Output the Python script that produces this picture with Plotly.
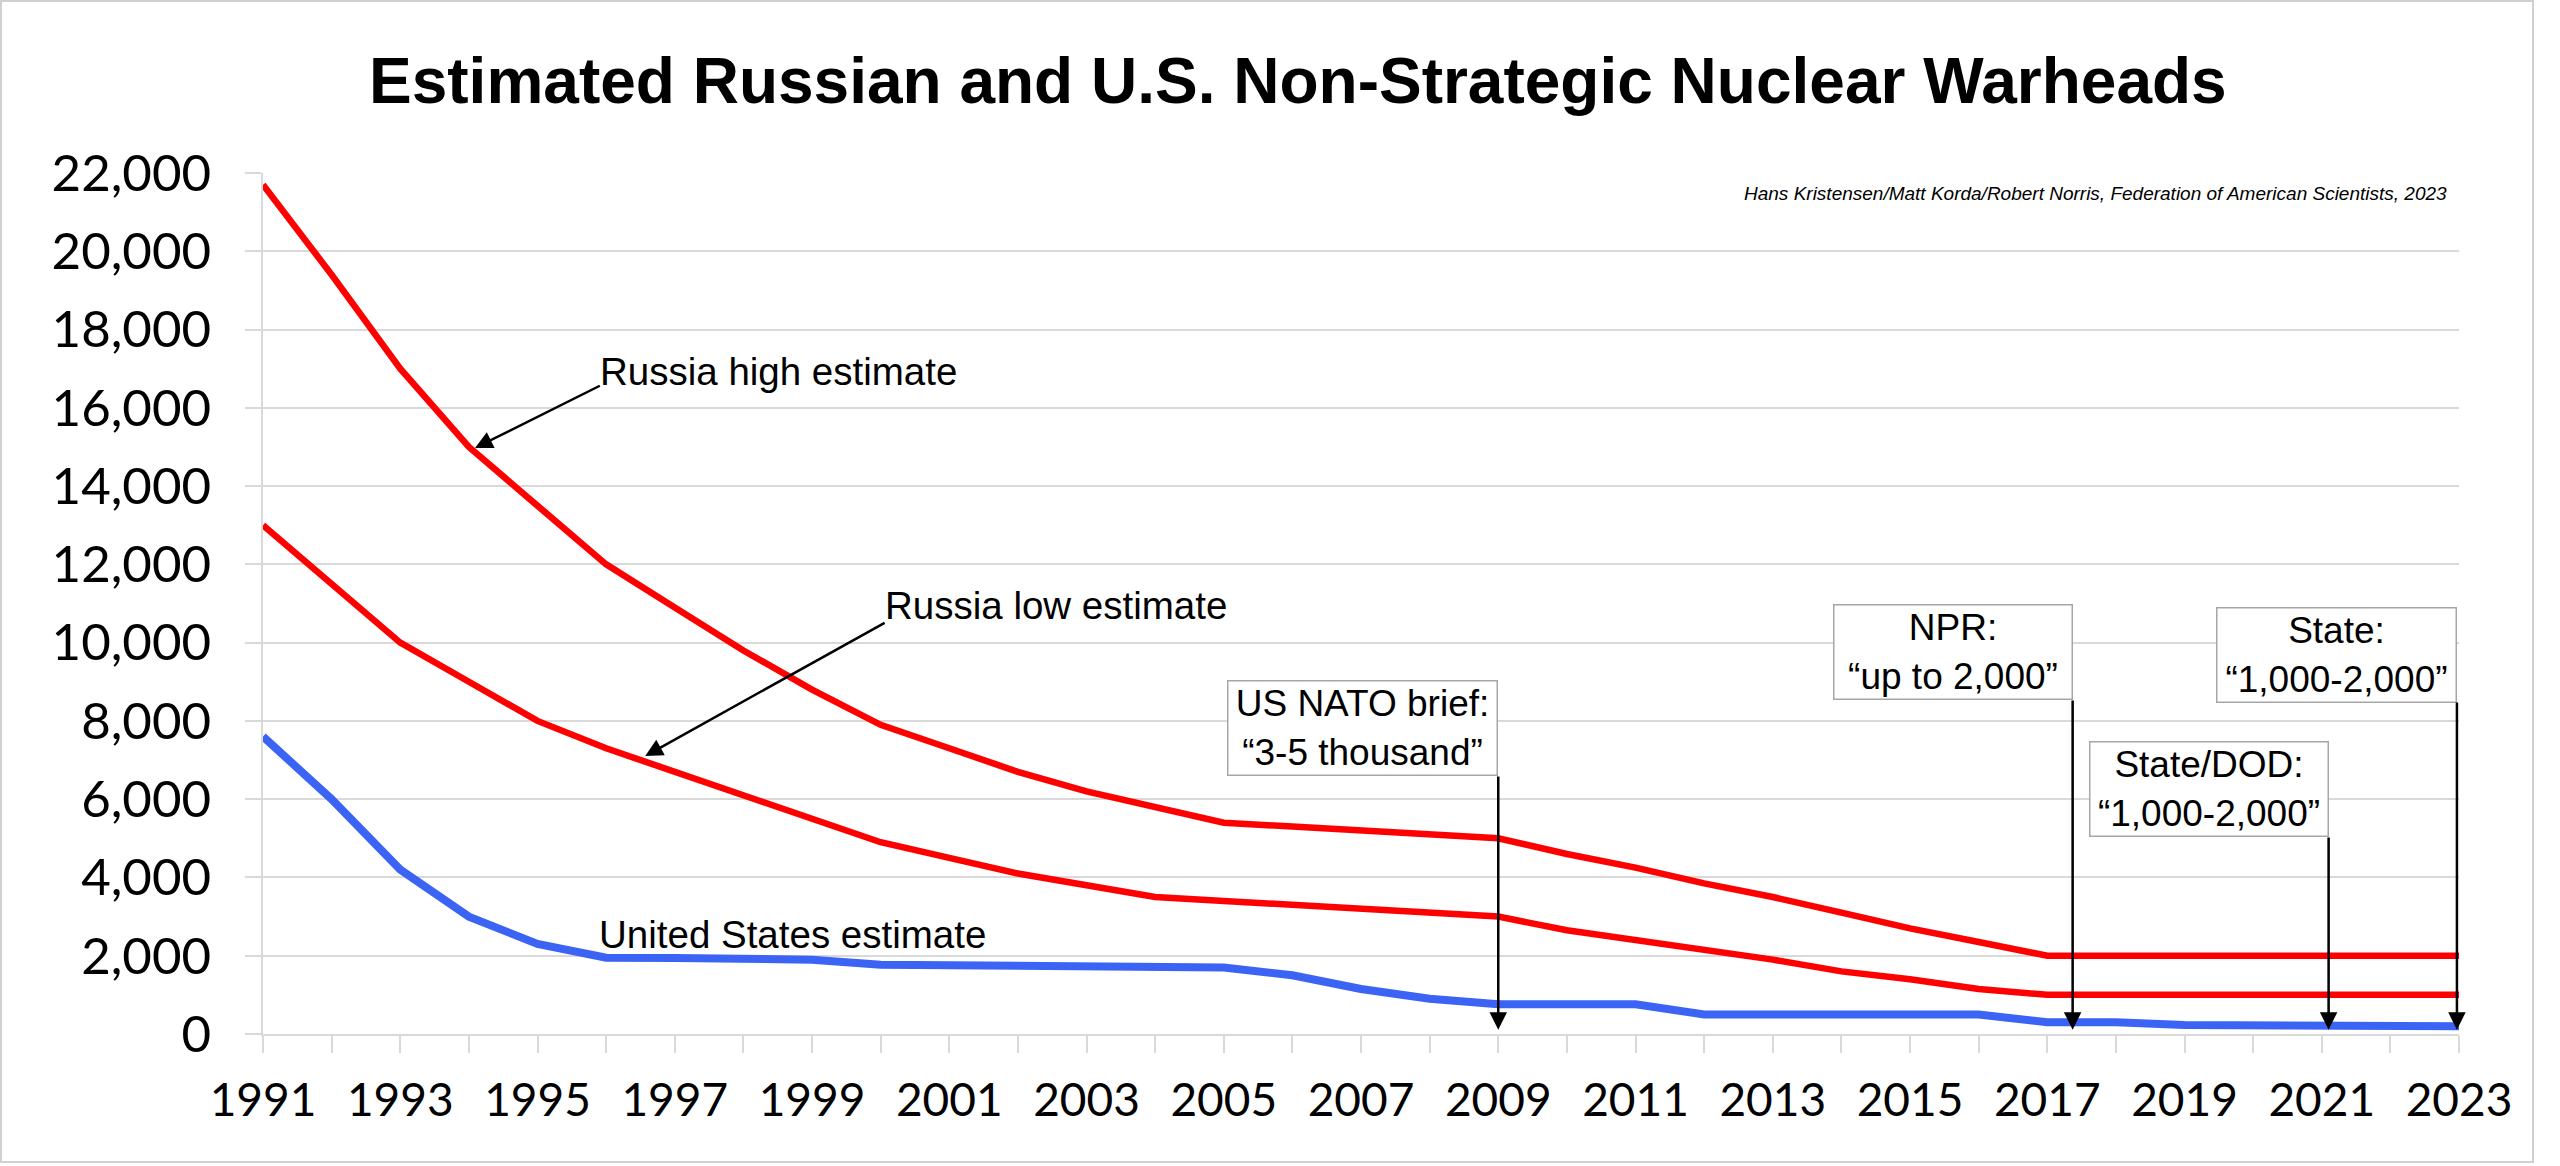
import plotly.graph_objects as go

# ---------------- data ----------------
YEARS = list(range(1991, 2024))
RUSSIA_HIGH = [21700, 19400, 17000, 15000, 13500, 12000, 10900, 9800, 8800, 7900,
               7300, 6700, 6200, 5800, 5400, 5300, 5200, 5100, 5000, 4600,
               4250, 3850, 3500, 3100, 2700, 2350, 2000, 2000, 2000, 2000,
               2000, 2000, 2000]
RUSSIA_LOW = [13000, 11500, 10000, 9000, 8000, 7300, 6700, 6100, 5500, 4900,
              4500, 4100, 3800, 3500, 3400, 3300, 3200, 3100, 3000, 2650,
              2400, 2150, 1900, 1600, 1400, 1150, 1000, 1000, 1000, 1000,
              1000, 1000, 1000]
US_EST = [7600, 6000, 4200, 3000, 2300, 1950, 1940, 1925, 1900, 1770,
          1750, 1740, 1730, 1720, 1700, 1500, 1150, 900, 760, 760,
          760, 500, 500, 500, 500, 500, 300, 300, 230, 230,
          230, 200, 200]
Y_TICKS = list(range(0, 22001, 2000))
X_TICKTEXT = [str(y) if (y - 1991) % 2 == 0 else "" for y in YEARS]

TITLE = "Estimated Russian and U.S. Non-Strategic Nuclear Warheads"
CREDIT = "Hans Kristensen/Matt Korda/Robert Norris, Federation of American Scientists, 2023"

# statements: (text, arrow year, box top value, box bottom value, box width px)
STATEMENTS = [
    ("US NATO brief:<br>\u201c3-5 thousand\u201d", 2009.0, 9045, 6618, 270),
    ("NPR:<br>\u201cup to 2,000\u201d", 2017.37, 10987, 8560, 239),
    ("State/DOD:<br>\u201c1,000-2,000\u201d", 2021.1, 7487, 5059, 239),
    ("State:<br>\u201c1,000-2,000\u201d", 2022.97, 10911, 8509, 240),
]

RED = "#ff0000"
BLUE = "#3b64f5"
GRID = "#d9d9d9"

W, H = 2560, 1166
ML, MR, MT, MB = 263, 101, 173, 132
PW, PH = W - ML - MR, H - MT - MB


def px_paper_x(px):
    return (px - ML) / PW


def px_paper_y(py):
    return (H - MB - py) / PH


fig = go.Figure()
fig.add_trace(go.Scatter(x=YEARS, y=RUSSIA_HIGH, mode="lines", name="Russia high estimate",
                         line=dict(color=RED, width=6.5)))
fig.add_trace(go.Scatter(x=YEARS, y=RUSSIA_LOW, mode="lines", name="Russia low estimate",
                         line=dict(color=RED, width=6.5)))
fig.add_trace(go.Scatter(x=YEARS, y=US_EST, mode="lines", name="United States estimate",
                         line=dict(color=BLUE, width=8)))

ann = []
label_font = dict(family="Liberation Sans, Arial, sans-serif", size=38.5, color="black")
box_font = dict(family="Liberation Sans, Arial, sans-serif", size=37, color="black")

# title
ann.append(dict(text="<b>" + TITLE + "</b>", xref="paper", yref="paper",
                x=px_paper_x(1298), y=px_paper_y(81), xanchor="center", yanchor="middle",
                showarrow=False,
                font=dict(family="Liberation Sans, Arial, sans-serif", size=64, color="black")))
# credit
ann.append(dict(text="<i>" + CREDIT + "</i>", xref="x", yref="y",
                x=2022.854, y=21489, xanchor="right", yanchor="middle", showarrow=False,
                font=dict(family="Liberation Sans, Arial, sans-serif", size=19, color="black")))

# series labels
ann.append(dict(text="Russia high estimate", xref="x", yref="y", x=1995.88, y=16940,
                xanchor="left", yanchor="middle", showarrow=False, font=label_font))
ann.append(dict(text="Russia low estimate", xref="x", yref="y", x=2000.04, y=10960,
                xanchor="left", yanchor="middle", showarrow=False, font=label_font))
ann.append(dict(text="United States estimate", xref="x", yref="y", x=1995.86, y=2530,
                xanchor="left", yanchor="middle", showarrow=False, font=label_font))

# label arrows
arrow_common = dict(text="", showarrow=True, arrowhead=2, arrowsize=1.4, arrowwidth=2.5,
                    arrowcolor="black", xref="x", yref="y", axref="x", ayref="y",
                    startstandoff=0, standoff=0)
ann.append(dict(x=1994.09, y=14973, ax=1995.93, ay=16583, **arrow_common))
ann.append(dict(x=1996.57, y=7103, ax=2000.08, ay=10527, **arrow_common))

# statement boxes + arrows
for text, yr, top, bottom, bw in STATEMENTS:
    ann.append(dict(text=text, xref="x", yref="y", x=yr, y=top, xanchor="right", yanchor="top",
                    showarrow=False, width=bw - 2, height=93, align="center", valign="middle",
                    bgcolor="white", bordercolor="#a6a6a6", borderwidth=1.5, borderpad=0,
                    font=box_font))
    ann.append(dict(x=yr, y=110, ax=yr, ay=bottom, **arrow_common))

fig.update_layout(
    width=W, height=H,
    margin=dict(l=ML, r=MR, t=MT, b=MB, pad=0),
    paper_bgcolor="white", plot_bgcolor="white",
    showlegend=False,
    annotations=ann,
    shapes=[dict(type="rect", xref="paper", yref="paper",
                 x0=px_paper_x(1), x1=px_paper_x(2533), y0=px_paper_y(1162), y1=px_paper_y(1),
                 line=dict(color="#d0d0d0", width=2), fillcolor="rgba(0,0,0,0)", layer="below")],
    xaxis=dict(range=[1991, 2023], tickvals=YEARS, ticktext=X_TICKTEXT,
               showgrid=False, zeroline=False, showline=True, linecolor=GRID, linewidth=1.5,
               ticks="outside", ticklen=17, tickwidth=1.5, tickcolor=GRID,
               ticklabelstandoff=8,
               tickfont=dict(family="Lato, Calibri, sans-serif", size=46, color="black")),
    yaxis=dict(range=[0, 22000], tickvals=Y_TICKS, tickformat=",d",
               showgrid=True, gridcolor=GRID, gridwidth=1.5, zeroline=False,
               showline=True, linecolor=GRID, linewidth=1.5,
               ticks="outside", ticklen=16, tickwidth=1.5, tickcolor=GRID,
               ticklabelstandoff=24,
               tickfont=dict(family="Lato, Calibri, sans-serif", size=51, color="black")),
)

fig.write_html("out.html", config={"displayModeBar": False},
               post_script="document.body.style.margin='0';document.body.style.overflow='hidden';")
